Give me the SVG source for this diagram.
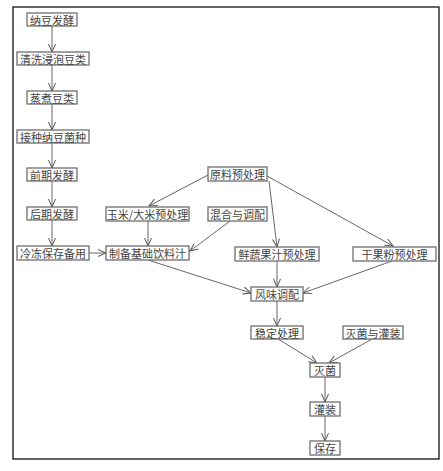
<svg xmlns="http://www.w3.org/2000/svg" width="443" height="471" viewBox="0 0 443 471">
<defs>
<marker id="arr" markerUnits="userSpaceOnUse" markerWidth="10" markerHeight="10" viewBox="0 0 10 10" refX="9" refY="5" orient="auto">
<path d="M1,1.5 L9,5 L1,8.5" fill="none" stroke="#555" stroke-width="1"/>
</marker>
</defs>
<style>
.n rect{fill:#fff;stroke:#6e6e6e;stroke-width:1.3}
.n text{font-family:"Noto Sans CJK SC","Liberation Serif",serif;font-size:11px;fill:#444;text-anchor:middle;dominant-baseline:central}
#edges line{stroke:#666;stroke-width:1;marker-end:url(#arr)}
</style>
<rect x="13" y="7" width="426" height="452" fill="#fff" stroke="#111" stroke-width="1.3"/>
<g id="edges">
<line x1="52" y1="26" x2="52" y2="52"/>
<line x1="52" y1="65" x2="52" y2="91"/>
<line x1="52" y1="104" x2="52" y2="130"/>
<line x1="52" y1="143" x2="52" y2="168"/>
<line x1="52" y1="181" x2="52" y2="207"/>
<line x1="52" y1="220" x2="52" y2="246"/>
<line x1="89" y1="253" x2="106" y2="253"/>
<line x1="208" y1="175" x2="149" y2="206"/>
<line x1="269" y1="181" x2="277" y2="247"/>
<line x1="267" y1="176" x2="393" y2="246"/>
<line x1="148" y1="221" x2="148" y2="246"/>
<line x1="230" y1="221" x2="190" y2="251"/>
<line x1="148" y1="260" x2="251" y2="293"/>
<line x1="277" y1="261" x2="277" y2="287"/>
<line x1="392" y1="261" x2="303" y2="293"/>
<line x1="277" y1="301" x2="277" y2="326"/>
<line x1="278" y1="339" x2="317" y2="363"/>
<line x1="372" y1="339" x2="329" y2="363"/>
<line x1="325" y1="377" x2="325" y2="402"/>
<line x1="325" y1="416" x2="325" y2="441"/>
</g>
<g id="n1" class="n"><rect x="27" y="13" width="50" height="13"/><text x="52" y="19.5">纳豆发酵</text></g>
<g id="n2" class="n"><rect x="17" y="52" width="72" height="13"/><text x="53" y="58.5">清洗浸泡豆类</text></g>
<g id="n3" class="n"><rect x="27" y="91" width="50" height="13"/><text x="52" y="97.5">蒸煮豆类</text></g>
<g id="n4" class="n"><rect x="17" y="130" width="72" height="13"/><text x="53" y="136.5">接种纳豆菌种</text></g>
<g id="n5" class="n"><rect x="27" y="168" width="50" height="13"/><text x="52" y="174.5">前期发酵</text></g>
<g id="n6" class="n"><rect x="27" y="207" width="50" height="13"/><text x="52" y="213.5">后期发酵</text></g>
<g id="n7" class="n"><rect x="17" y="246" width="72" height="14"/><text x="53" y="253">冷冻保存备用</text></g>
<g id="n8" class="n"><rect x="106" y="246" width="83" height="14"/><text x="147.5" y="253">制备基础饮料汁</text></g>
<g id="n9" class="n"><rect x="106" y="207" width="83" height="14"/><text x="147.5" y="214">玉米/大米预处理</text></g>
<g id="n10" class="n"><rect x="208" y="167" width="59" height="14"/><text x="237.5" y="174">原料预处理</text></g>
<g id="n11" class="n"><rect x="208" y="207" width="59" height="14"/><text x="237.5" y="214">混合与调配</text></g>
<g id="n12" class="n"><rect x="235" y="247" width="84" height="14"/><text x="277" y="254">鲜蔬果汁预处理</text></g>
<g id="n13" class="n"><rect x="353" y="247" width="83" height="14"/><text x="394.5" y="254">干果粉预处理</text></g>
<g id="n14" class="n"><rect x="251" y="287" width="52" height="14"/><text x="277" y="294">风味调配</text></g>
<g id="n15" class="n"><rect x="251" y="326" width="52" height="13"/><text x="277" y="332.5">稳定处理</text></g>
<g id="n16" class="n"><rect x="343" y="326" width="60" height="13"/><text x="373" y="332.5">灭菌与灌装</text></g>
<g id="n17" class="n"><rect x="310" y="363" width="30" height="14"/><text x="325" y="370">灭菌</text></g>
<g id="n18" class="n"><rect x="310" y="402" width="30" height="14"/><text x="325" y="409">灌装</text></g>
<g id="n19" class="n"><rect x="310" y="441" width="30" height="14"/><text x="325" y="448">保存</text></g>
</svg>
